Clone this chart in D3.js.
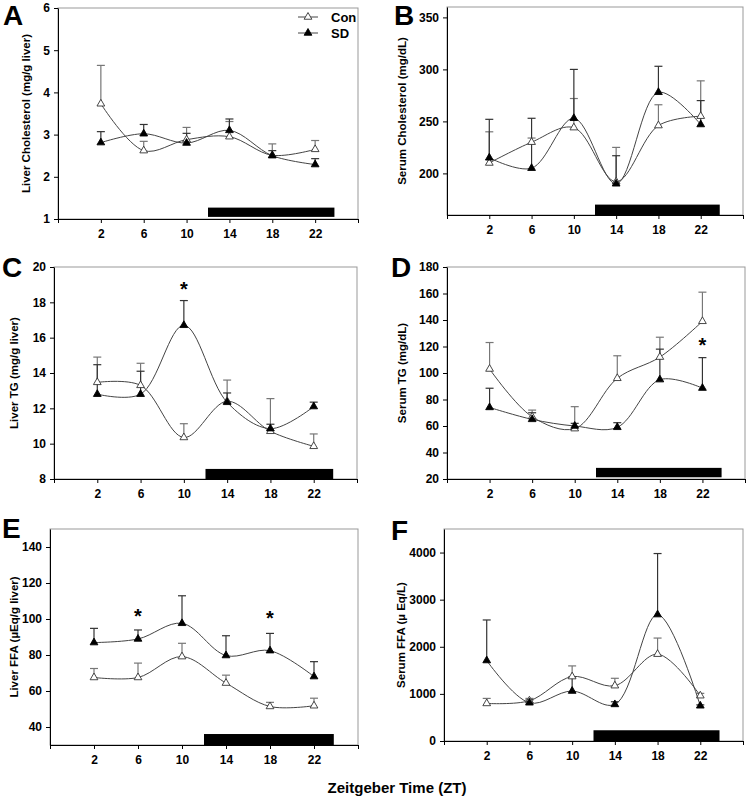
<!DOCTYPE html>
<html>
<head>
<meta charset="utf-8">
<script src="https://cdn.jsdelivr.net/npm/d3@7"></script>
<style>
  body { margin: 0; background: #fff; }
  svg { display: block; font-family: Arial, "Liberation Sans", sans-serif; }
</style>
</head>
<body>
<svg id="chart" width="747" height="801"></svg>
<script>
// sampling times and x ticks
const zt = [2, 6, 10, 14, 18, 22];
const xTicks = [-2, 2, 6, 10, 14, 18, 22, 26];
const darkPhase = [12, 23.8];

// A - liver cholesterol
const liverCholCon = [3.73, 2.62, 2.88, 2.95, 2.51, 2.65];
const liverCholConSem = [0.91, 0.22, 0.29, 0.36, 0.27, 0.21];
const liverCholSD = [2.81, 3.02, 2.8, 3.1, 2.5, 2.29];
const liverCholSDSem = [0.26, 0.22, 0.23, 0.27, 0.12, 0.14];
const liverCholTicks = [1, 2, 3, 4, 5, 6];

// B - serum cholesterol
const serumCholCon = [210, 230, 244, 192, 246, 255];
const serumCholConSem = [30, 4, 28, 33, 20, 34];
const serumCholSD = [215, 205, 253, 190, 278, 247];
const serumCholSDSem = [37, 48, 47, 27, 25, 23];
const serumCholTicks = [200, 250, 300, 350];

// C - liver TG
const liverTgCon = [13.47, 13.3, 10.35, 12.4, 10.7, 9.85];
const liverTgConSem = [1.43, 1.25, 0.78, 1.2, 1.85, 0.7];
const liverTgSD = [12.8, 12.8, 16.7, 12.34, 10.85, 12.1];
const liverTgSDSem = [1.67, 1.3, 1.4, 0.53, 0.25, 0.25];
const liverTgTicks = [8, 10, 12, 14, 16, 18, 20];

// D - serum TG
const serumTgCon = [103, 67, 58, 96, 112, 139];
const serumTgConSem = [20, 5, 16.6, 17, 15, 22];
const serumTgSD = [74, 65, 60, 59, 95, 88.6];
const serumTgSDSem = [14.5, 5, 2, 3.5, 23, 23];
const serumTgTicks = [20, 40, 60, 80, 100, 120, 140, 160, 180];

// E - liver FFA
const liverFfaCon = [67.5, 67.5, 79.1, 64.4, 51.4, 51.8];
const liverFfaConSem = [5, 8, 7.4, 4.4, 2.3, 4.2];
const liverFfaSD = [86.9, 88.9, 97.6, 79.7, 82.4, 68];
const liverFfaSDSem = [7.9, 5, 15.3, 11, 9.6, 8.3];
const liverFfaTicks = [40, 60, 80, 100, 120, 140];

// F - serum FFA
const serumFfaCon = [797, 854, 1367, 1174, 1843, 961];
const serumFfaConSem = [107, 50, 227, 157, 342, 50];
const serumFfaSD = [1708, 811, 1060, 776, 2683, 747];
const serumFfaSDSem = [861, 60, 300, 57, 1296, 20];
const serumFfaTicks = [0, 1000, 2000, 3000, 4000];

// significance marks [ZT, y value]
const liverTgStars = [[10, 19.0]];
const serumTgStars = [[22, 124]];
const liverFfaStars = [[6, 104], [18, 103]];

const panels = [
  { letter: 'A', title: 'Liver Cholesterol (mg/g liver)', con: liverCholCon, conSem: liverCholConSem,
    sd: liverCholSD, sdSem: liverCholSDSem, ticks: liverCholTicks, yDomain: [1, 6], bar: [1.05, 1.27],
    stars: [], box: { l: 58, r: 358, t: 8, b: 219 }, titleX: 30, letterPos: [3, 25], legend: true },
  { letter: 'B', title: 'Serum Cholesterol (mg/dL)', con: serumCholCon, conSem: serumCholConSem,
    sd: serumCholSD, sdSem: serumCholSDSem, ticks: serumCholTicks, yDomain: [160, 360], bar: [160, 170],
    stars: [], box: { l: 447, r: 743, t: 7, b: 215 }, titleX: 406, letterPos: [394, 25] },
  { letter: 'C', title: 'Liver TG (mg/g liver)', con: liverTgCon, conSem: liverTgConSem,
    sd: liverTgSD, sdSem: liverTgSDSem, ticks: liverTgTicks, yDomain: [8, 20], bar: [8, 8.57],
    stars: liverTgStars, box: { l: 54, r: 357, t: 267, b: 479 }, titleX: 18, letterPos: [2, 277] },
  { letter: 'D', title: 'Serum TG (mg/dL)', con: serumTgCon, conSem: serumTgConSem,
    sd: serumTgSD, sdSem: serumTgSDSem, ticks: serumTgTicks, yDomain: [20, 180], bar: [21.3, 28.4],
    stars: serumTgStars, box: { l: 447, r: 745, t: 267, b: 479 }, titleX: 406, letterPos: [391, 277] },
  { letter: 'E', title: 'Liver FFA (\u00b5Eq/g liver)', con: liverFfaCon, conSem: liverFfaConSem,
    sd: liverFfaSD, sdSem: liverFfaSDSem, ticks: liverFfaTicks, yDomain: [30, 150], bar: [30, 36.1],
    stars: liverFfaStars, box: { l: 50, r: 358, t: 529, b: 745 }, titleX: 18, letterPos: [2, 538] },
  { letter: 'F', title: 'Serum FFA (\u00b5 Eq/L)', con: serumFfaCon, conSem: serumFfaConSem,
    sd: serumFfaSD, sdSem: serumFfaSDSem, ticks: serumFfaTicks, yDomain: [0, 4500], bar: [0, 228],
    stars: [], box: { l: 444, r: 743, t: 529, b: 741 }, titleX: 405, letterPos: [391, 540] },
];

const svg = d3.select('#chart');
svg.append('rect').attr('width', 747).attr('height', 801).attr('fill', '#fff');

const lineColor = '#444';
const triangle = d3.symbol(d3.symbolTriangle, 26);

function drawErrorBars(g, x, y, values, sems, barColor) {
  const pts = zt.map((t, i) => ({ t, v: values[i], s: sems[i] }));

  const eb = g.append('g').attr('stroke', barColor).attr('stroke-width', 1.2);
  eb.selectAll('line.stem')
    .data(pts)
    .join('line')
    .attr('x1', (d) => x(d.t))
    .attr('x2', (d) => x(d.t))
    .attr('y1', (d) => y(d.v))
    .attr('y2', (d) => y(d.v + d.s));
  eb.selectAll('line.cap')
    .data(pts)
    .join('line')
    .attr('x1', (d) => x(d.t) - 4)
    .attr('x2', (d) => x(d.t) + 4)
    .attr('y1', (d) => y(d.v + d.s))
    .attr('y2', (d) => y(d.v + d.s));

  return pts;
}

function drawLineAndMarks(g, x, y, pts, filled) {
  g.append('path')
    .datum(pts)
    .attr('fill', 'none')
    .attr('stroke', lineColor)
    .attr('stroke-width', 1)
    .attr('d', d3.line().x((d) => x(d.t)).y((d) => y(d.v)).curve(d3.curveCatmullRom.alpha(0.5)));

  g.selectAll(null)
    .data(pts)
    .join('path')
    .attr('transform', (d) => `translate(${x(d.t)},${y(d.v)})`)
    .attr('d', triangle)
    .attr('fill', filled ? '#000' : '#fff')
    .attr('stroke', filled ? '#000' : '#333')
    .attr('stroke-width', 0.9);
}

panels.forEach((p) => {
  const { l, r, t, b } = p.box;
  const g = svg.append('g');
  const x = d3.scaleLinear().domain([-2, 26]).range([l, r]);
  const y = d3.scaleLinear().domain(p.yDomain).range([b, t]);

  // frame
  g.append('rect')
    .attr('x', l).attr('y', t)
    .attr('width', r - l).attr('height', b - t)
    .attr('fill', 'none')
    .attr('stroke', '#999')
    .attr('stroke-width', 1);

  // dark phase bar
  g.append('rect')
    .attr('x', x(darkPhase[0]))
    .attr('y', y(p.bar[1]))
    .attr('width', x(darkPhase[1]) - x(darkPhase[0]))
    .attr('height', y(p.bar[0]) - y(p.bar[1]))
    .attr('fill', '#000');

  const xAxisG = g.append('g').attr('transform', `translate(0,${b})`);
  xAxisG.call(
    d3.axisBottom(x)
      .tickValues(xTicks)
      .tickSize(4)
      .tickSizeOuter(0)
      .tickPadding(6)
      .tickFormat((d) => (zt.includes(d) ? String(d) : '')),
  );

  const yAxisG = g.append('g').attr('transform', `translate(${l},0)`);
  yAxisG.call(
    d3.axisLeft(y)
      .tickValues(p.ticks)
      .tickSize(4)
      .tickSizeOuter(0)
      .tickPadding(4)
      .tickFormat((d) => String(d)),
  );

  [xAxisG, yAxisG].forEach((ax) => {
    ax.selectAll('.domain').attr('stroke', '#000');
    ax.selectAll('.tick line').attr('stroke', '#000');
    ax.selectAll('.tick text')
      .attr('fill', '#000')
      .attr('font-size', 12)
      .attr('font-weight', 'bold')
      .attr('font-family', 'Arial, "Liberation Sans", sans-serif');
  });

  const conPts = drawErrorBars(g, x, y, p.con, p.conSem, '#777');
  const sdPts = drawErrorBars(g, x, y, p.sd, p.sdSem, '#333');
  drawLineAndMarks(g, x, y, conPts, false);
  drawLineAndMarks(g, x, y, sdPts, true);

  // significance
  g.selectAll('text.star')
    .data(p.stars)
    .join('text')
    .attr('x', (d) => x(d[0]))
    .attr('y', (d) => y(d[1]) + 11)
    .attr('text-anchor', 'middle')
    .attr('font-size', 20)
    .attr('font-weight', 'bold')
    .text('*');

  // y title
  g.append('text')
    .attr('transform', `translate(${p.titleX},${(t + b) / 2}) rotate(-90)`)
    .attr('text-anchor', 'middle')
    .attr('font-size', 11.5)
    .attr('font-weight', 'bold')
    .text(p.title);

  // panel letter
  g.append('text')
    .attr('x', p.letterPos[0])
    .attr('y', p.letterPos[1])
    .attr('font-size', 28)
    .attr('font-weight', 'bold')
    .text(p.letter);

  if (p.legend) {
    const items = [{ name: 'Con', filled: false, y: 17 }, { name: 'SD', filled: true, y: 33 }];
    const lg = g.append('g');
    items.forEach((it) => {
      lg.append('line')
        .attr('x1', 298).attr('x2', 318)
        .attr('y1', it.y).attr('y2', it.y)
        .attr('stroke', lineColor);
      lg.append('path')
        .attr('transform', `translate(308,${it.y})`)
        .attr('d', triangle)
        .attr('fill', it.filled ? '#000' : '#fff')
        .attr('stroke', it.filled ? '#000' : '#333')
        .attr('stroke-width', 0.9);
      lg.append('text')
        .attr('x', 331)
        .attr('y', it.y + 5)
        .attr('font-size', 13)
        .attr('font-weight', 'bold')
        .text(it.name);
    });
  }
});

svg.append('text')
  .attr('x', 397)
  .attr('y', 793)
  .attr('text-anchor', 'middle')
  .attr('font-size', 15)
  .attr('font-weight', 'bold')
  .text('Zeitgeber Time (ZT)');
</script>
</body>
</html>
